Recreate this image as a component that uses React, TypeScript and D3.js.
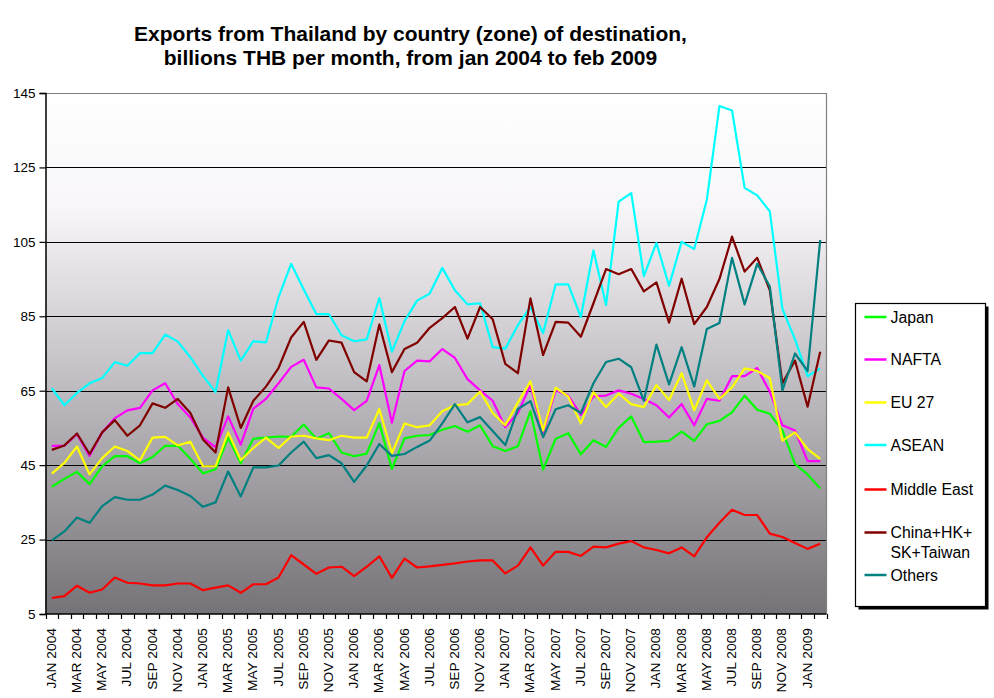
import React, { useEffect, useRef } from "react";
import * as d3 from "d3";

const monthNames = ["JAN", "FEB", "MAR", "APR", "MAY", "JUN", "JUL", "AUG", "SEP", "OCT", "NOV", "DEC"];
const years = [2004, 2005, 2006, 2007, 2008, 2009];
// jan 2004 .. feb 2009
const categories: string[] = years
  .flatMap((y) => monthNames.map((m) => `${m} ${y}`))
  .slice(0, 62);

const yTicks = [5, 25, 45, 65, 85, 105, 125, 145];

const japan = [39.2, 41.3, 43.2, 39.9, 44.7, 47.4, 47.4, 45.5, 47.2, 50.2, 50.2, 46.7, 42.8, 43.9, 52.4, 45.5, 52.1, 52.4, 52.7, 52.6, 55.9, 52.1, 53.6, 48.4, 47.4, 48.1, 56.3, 44.0, 52.2, 52.9, 53.1, 54.5, 55.5, 54.0, 55.7, 50.1, 48.8, 50.1, 59.5, 43.8, 52.1, 53.6, 47.9, 51.7, 49.9, 55.0, 58.1, 51.2, 51.3, 51.5, 54.0, 51.5, 56.0, 56.9, 59.2, 63.7, 59.9, 58.8, 54.3, 45.3, 42.5, 38.7];
const nafta = [50.2, 50.2, 53.3, 47.5, 53.8, 57.6, 59.7, 60.4, 65.1, 67.0, 61.4, 57.8, 52.4, 49.8, 58.1, 50.5, 60.2, 62.8, 67.0, 71.4, 73.3, 65.9, 65.6, 62.8, 59.8, 62.3, 71.9, 56.4, 70.3, 73.1, 72.9, 76.2, 73.8, 68.1, 65.1, 62.3, 55.2, 59.0, 66.5, 53.8, 65.1, 63.7, 58.5, 63.5, 63.7, 65.1, 64.2, 62.8, 61.1, 57.8, 61.4, 55.7, 62.8, 62.3, 68.9, 68.9, 71.1, 64.7, 55.7, 54.3, 46.1, 46.1];
const eu27 = [42.7, 45.6, 50.0, 42.5, 46.9, 50.0, 48.8, 46.3, 52.4, 52.6, 50.3, 51.3, 44.7, 44.7, 53.8, 46.3, 49.6, 52.4, 49.6, 52.7, 52.9, 52.2, 51.7, 52.9, 52.4, 52.4, 60.1, 48.2, 56.2, 55.2, 55.7, 59.5, 61.1, 61.4, 64.8, 59.0, 55.7, 61.8, 67.5, 54.3, 65.8, 63.4, 56.2, 64.6, 60.6, 64.2, 61.4, 60.6, 66.5, 62.5, 69.7, 59.7, 67.8, 62.8, 65.9, 71.0, 70.3, 68.4, 51.6, 53.8, 49.3, 46.7];
const asean = [65.7, 61.1, 64.4, 67.0, 68.4, 72.7, 71.7, 75.1, 75.1, 80.1, 78.2, 74.0, 69.0, 64.6, 81.3, 73.1, 78.3, 78.0, 90.1, 99.1, 92.2, 85.6, 85.6, 79.9, 78.3, 78.8, 89.9, 75.5, 83.7, 89.2, 91.1, 98.0, 92.0, 88.2, 88.5, 76.7, 76.3, 82.6, 87.5, 80.5, 93.6, 93.6, 84.8, 102.7, 88.0, 115.8, 118.1, 95.8, 104.7, 93.2, 105.0, 103.1, 116.3, 141.5, 140.3, 119.5, 117.5, 113.2, 87.0, 78.8, 68.9, 71.0];
const middleEast = [9.3, 9.8, 12.6, 10.7, 11.6, 14.8, 13.4, 13.2, 12.7, 12.7, 13.2, 13.2, 11.4, 12.1, 12.7, 10.7, 13.0, 13.0, 14.8, 20.8, 18.3, 15.8, 17.5, 17.7, 15.2, 17.7, 20.5, 14.7, 19.9, 17.5, 17.8, 18.2, 18.6, 19.1, 19.4, 19.4, 15.9, 18.0, 22.9, 18.0, 21.7, 21.7, 20.6, 23.1, 22.9, 23.9, 24.6, 22.9, 22.2, 21.3, 22.9, 20.5, 25.6, 29.5, 33.0, 31.6, 31.6, 26.6, 25.7, 24.1, 22.5, 23.9];
const chinaGroup = [49.1, 50.3, 53.5, 48.0, 53.8, 57.1, 52.9, 55.7, 61.6, 60.4, 62.8, 59.0, 51.9, 48.4, 65.9, 55.0, 62.3, 66.1, 71.1, 79.3, 83.5, 73.3, 78.5, 77.9, 70.0, 67.5, 82.8, 70.0, 76.2, 77.9, 81.9, 84.5, 87.5, 79.0, 87.5, 84.2, 72.2, 69.7, 89.8, 74.6, 83.5, 83.3, 79.5, 88.5, 97.7, 96.3, 97.7, 91.7, 94.1, 83.3, 95.1, 82.9, 87.5, 95.0, 106.4, 97.0, 100.7, 92.0, 67.0, 73.1, 60.7, 75.5];
const others = [24.8, 27.2, 30.9, 29.5, 34.0, 36.4, 35.7, 35.7, 37.1, 39.5, 38.3, 36.7, 33.8, 35.0, 43.3, 36.6, 44.4, 44.4, 44.9, 48.4, 51.3, 46.9, 47.7, 45.5, 40.5, 44.9, 50.7, 47.5, 48.0, 49.9, 51.6, 56.2, 61.4, 56.5, 57.9, 54.2, 50.4, 60.1, 62.2, 52.5, 60.0, 61.1, 59.0, 67.0, 72.7, 73.6, 71.3, 62.3, 77.4, 66.7, 76.7, 66.1, 81.6, 83.2, 100.7, 88.2, 99.1, 93.0, 65.1, 75.0, 70.3, 105.5];

const seriesNames = ["Japan", "NAFTA", "EU 27", "ASEAN", "Middle East", "China+HK+\nSK+Taiwan", "Others"];
const seriesValues = [japan, nafta, eu27, asean, middleEast, chinaGroup, others];
const seriesColors = ["#00ff00", "#ff00ff", "#ffff00", "#00ffff", "#ff0000", "#800000", "#008080"];

const FONT = "'Liberation Sans', Arial, sans-serif";

const ExportsChart: React.FC = () => {
  const svgRef = useRef<SVGSVGElement | null>(null);

  useEffect(() => {
    const width = 994;
    const height = 698;
    const plot = { left: 45.5, right: 826.5, top: 93, bottom: 614 };

    const svg = d3
      .select(svgRef.current)
      .attr("width", width)
      .attr("height", height)
      .attr("viewBox", `0 0 ${width} ${height}`)
      .style("font-family", FONT);

    svg.selectAll("*").remove();

    svg.append("rect").attr("width", width).attr("height", height).attr("fill", "#ffffff");

    const x = d3
      .scaleBand<string>()
      .domain(categories)
      .range([plot.left, plot.right])
      .paddingInner(0)
      .paddingOuter(0);

    const y = d3.scaleLinear().domain([5, 145]).range([plot.bottom, plot.top]);

    // background gradient
    const grad = svg
      .append("defs")
      .append("linearGradient")
      .attr("id", "bgGrad")
      .attr("x1", 0)
      .attr("y1", 0)
      .attr("x2", 0)
      .attr("y2", 1);
    grad.append("stop").attr("offset", "0%").attr("stop-color", "#ffffff");
    grad.append("stop").attr("offset", "22%").attr("stop-color", "#f8f6f9");
    grad.append("stop").attr("offset", "100%").attr("stop-color", "#757378");

    svg
      .append("rect")
      .attr("x", plot.left)
      .attr("y", plot.top)
      .attr("width", plot.right - plot.left)
      .attr("height", plot.bottom - plot.top)
      .attr("fill", "url(#bgGrad)");

    // gridlines
    svg
      .append("g")
      .selectAll("line")
      .data(yTicks.filter((t) => t !== 5 && t !== 145))
      .join("line")
      .attr("x1", plot.left)
      .attr("x2", plot.right)
      .attr("y1", (d) => Math.round(y(d)) + 0.5)
      .attr("y2", (d) => Math.round(y(d)) + 0.5)
      .attr("stroke", "#000")
      .attr("stroke-width", 1.2);

    // top and right border
    svg
      .append("path")
      .attr("d", `M${plot.left},${plot.top + 0.5}H${plot.right}V${plot.bottom}`)
      .attr("fill", "none")
      .attr("stroke", "#808080")
      .attr("stroke-width", 1.2);

    // y axis
    const yAxis = svg
      .append("g")
      .attr("transform", `translate(${plot.left},0)`)
      .call(d3.axisLeft(y).tickValues(yTicks).tickSize(6).tickPadding(4).tickFormat(d3.format("d")));
    yAxis.select(".domain").attr("stroke", "#000").attr("stroke-width", 1.5);
    yAxis.selectAll(".tick line").attr("stroke", "#000").attr("stroke-width", 1.2);
    yAxis
      .selectAll(".tick text")
      .attr("fill", "#000")
      .style("font-size", "13.5px")
      .style("font-family", FONT);

    // x axis: ticks on category boundaries
    const boundaries = categories.map((c) => x(c) as number).concat([plot.right]);
    svg
      .append("g")
      .selectAll("line")
      .data(boundaries)
      .join("line")
      .attr("x1", (d) => Math.round(d) + 0.5)
      .attr("x2", (d) => Math.round(d) + 0.5)
      .attr("y1", plot.bottom)
      .attr("y2", plot.bottom + 5)
      .attr("stroke", "#000")
      .attr("stroke-width", 1.2);

    svg
      .append("line")
      .attr("x1", plot.left)
      .attr("x2", plot.right)
      .attr("y1", plot.bottom)
      .attr("y2", plot.bottom)
      .attr("stroke", "#000")
      .attr("stroke-width", 1.5);

    svg
      .append("g")
      .selectAll("text")
      .data(categories.filter((_, i) => i % 2 === 0))
      .join("text")
      .attr(
        "transform",
        (d) =>
          `translate(${(x(d) as number) + x.bandwidth() / 2 + 4},${plot.bottom + 14}) rotate(-90) scale(1,0.88)`
      )
      .attr("text-anchor", "end")
      .style("font-size", "13.8px")
      .attr("fill", "#000")
      .text((d) => d);

    // lines
    const line = d3
      .line<number>()
      .x((_, i) => (x(categories[i]) as number) + x.bandwidth() / 2)
      .y((d) => y(d));

    svg
      .append("g")
      .selectAll("path")
      .data(seriesValues)
      .join("path")
      .attr("fill", "none")
      .attr("stroke", (_, i) => seriesColors[i])
      .attr("stroke-width", 2.2)
      .attr("stroke-linejoin", "round")
      .attr("d", (d) => line(d));

    // title
    const title = svg
      .append("text")
      .attr("transform", "translate(410.5,0) scale(1.05,1)")
      .attr("text-anchor", "middle")
      .style("font-size", "20px")
      .style("font-weight", "bold")
      .attr("fill", "#000");
    title.append("tspan").attr("x", 0).attr("y", 41).text("Exports from Thailand by country (zone) of destination,");
    title.append("tspan").attr("x", 0).attr("y", 65).text("billions THB per month, from jan 2004 to feb 2009");

    // legend
    const legend = { x: 855.5, y: 303.5, w: 130, h: 303 };
    svg
      .append("rect")
      .attr("x", legend.x + 3)
      .attr("y", legend.y + 3)
      .attr("width", legend.w)
      .attr("height", legend.h)
      .attr("fill", "#000");
    svg
      .append("rect")
      .attr("x", legend.x)
      .attr("y", legend.y)
      .attr("width", legend.w)
      .attr("height", legend.h)
      .attr("fill", "#fff")
      .attr("stroke", "#000")
      .attr("stroke-width", 1.2);

    const legendY = [317, 359.5, 402.5, 445, 489.5, 532.5, 575];
    seriesNames.forEach((name, i) => {
      const g = svg.append("g").attr("transform", `translate(${legend.x},${legendY[i]})`);
      g.append("line")
        .attr("x1", 9)
        .attr("x2", 31)
        .attr("y1", 0)
        .attr("y2", 0)
        .attr("stroke", seriesColors[i])
        .attr("stroke-width", 2.5);
      const t = g
        .append("text")
        .attr("x", 35)
        .attr("y", 0)
        .style("font-size", "15.8px")
        .attr("fill", "#000");
      name.split("\n").forEach((part, j) => {
        t.append("tspan").attr("x", 35).attr("dy", j === 0 ? "0.35em" : "1.27em").text(part);
      });
    });
  }, []);

  return (
    <div style={{ position: "absolute", left: 0, top: 0, width: 994, height: 698 }}>
      <svg ref={svgRef} style={{ display: "block" }} />
    </div>
  );
};

export default function App() {
  return <ExportsChart />;
}
